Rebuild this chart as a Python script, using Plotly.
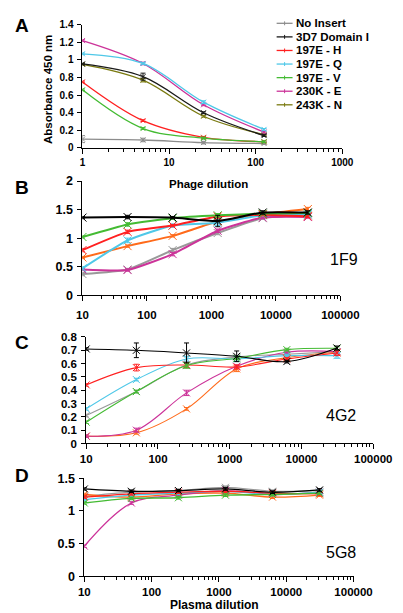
import plotly.graph_objects as go

W, H = 403, 613

names = ["No Insert", "3D7 Domain I", "197E - H", "197E - Q", "197E - V", "230K - E", "243K - N"]
colors_a = ["#8c8c8c", "#1a1a1a", "#ff2020", "#4fc8e8", "#44bb33", "#cc3399", "#7a7a10"]
colors_bcd = ["#999999", "#000000", "#ff2020", "#4fc8e8", "#44bb33", "#cc3399", "#ff6a1a"]

# Panel A: phage dilution
phage_dil = [1, 5, 25, 125]
a_vals = [
    [0.10, 0.09, 0.06, 0.05],
    [0.955, 0.81, 0.40, 0.14],
    [0.75, 0.31, 0.12, 0.07],
    [1.07, 0.96, 0.52, 0.21],
    [0.66, 0.22, 0.11, 0.07],
    [1.22, 0.96, 0.49, 0.18],
    [0.95, 0.77, 0.36, 0.15],
]
a_err = [
    [0.04, 0.02, 0.015, 0.01],
    [0.01, 0.04, 0.01, 0.01],
    [0.01, 0.01, 0.01, 0.01],
    [0.01, 0.01, 0.015, 0.01],
    [0.01, 0.01, 0.01, 0.01],
    [0.01, 0.015, 0.01, 0.01],
    [0.01, 0.02, 0.01, 0.01],
]

# Panels B-D: plasma dilution
plasma_dil = [10, 50, 250, 1250, 6250, 31250]
b_vals = [
    [0.37, 0.45, 0.79, 1.09, 1.35, 1.40],
    [1.36, 1.37, 1.36, 1.30, 1.45, 1.45],
    [0.79, 1.11, 1.22, 1.38, 1.41, 1.38],
    [0.47, 0.96, 1.22, 1.27, 1.40, 1.42],
    [1.02, 1.24, 1.35, 1.40, 1.43, 1.44],
    [0.45, 0.44, 0.72, 1.13, 1.36, 1.37],
    [0.66, 0.86, 1.04, 1.29, 1.42, 1.51],
]
b_err = [
    [0.03, 0.02, 0.03, 0.03, 0.02, 0.02],
    [0.02, 0.03, 0.02, 0.10, 0.03, 0.03],
    [0.03, 0.03, 0.02, 0.03, 0.02, 0.02],
    [0.03, 0.04, 0.03, 0.05, 0.02, 0.02],
    [0.02, 0.03, 0.02, 0.03, 0.02, 0.02],
    [0.02, 0.02, 0.03, 0.03, 0.02, 0.02],
    [0.02, 0.02, 0.02, 0.03, 0.02, 0.03],
]
c_vals = [
    [0.21, 0.39, 0.59, 0.65, 0.67, 0.69],
    [0.71, 0.70, 0.68, 0.655, 0.615, 0.717],
    [0.44, 0.57, 0.59, 0.575, 0.635, 0.68],
    [0.26, 0.48, 0.635, 0.635, 0.66, 0.66],
    [0.16, 0.39, 0.585, 0.64, 0.705, 0.715],
    [0.055, 0.10, 0.38, 0.58, 0.685, 0.69],
    [0.055, 0.08, 0.26, 0.56, 0.645, 0.685],
]
c_err = [
    [0.01, 0.01, 0.02, 0.01, 0.01, 0.01],
    [0.01, 0.055, 0.075, 0.04, 0.01, 0.015],
    [0.01, 0.025, 0.02, 0.015, 0.01, 0.02],
    [0.01, 0.01, 0.02, 0.02, 0.01, 0.02],
    [0.01, 0.01, 0.02, 0.01, 0.01, 0.01],
    [0.01, 0.015, 0.02, 0.01, 0.01, 0.01],
    [0.01, 0.01, 0.01, 0.02, 0.01, 0.01],
]
d_vals = [
    [1.22, 1.285, 1.31, 1.36, 1.30, 1.31],
    [1.335, 1.30, 1.31, 1.335, 1.285, 1.32],
    [1.21, 1.26, 1.285, 1.30, 1.27, 1.26],
    [1.17, 1.24, 1.27, 1.30, 1.25, 1.285],
    [1.12, 1.19, 1.20, 1.24, 1.25, 1.27],
    [0.46, 1.12, 1.24, 1.31, 1.25, 1.285],
    [1.25, 1.21, 1.26, 1.27, 1.21, 1.24],
]
d_err = [[0.02] * 6 for _ in range(7)]

# log-axis tick values
a_major = [1, 10, 100, 1000]
bcd_major = [10, 100, 1000, 10000, 100000]
minor_mult = [2, 3, 4, 5, 6, 7, 8, 9]

FONT = "Liberation Sans"


def px(x):
    return x / W


def py(y):
    return 1 - y / H


fig = go.Figure()

draw_order = [0, 6, 5, 3, 2, 4, 1]

panels = [
    ("", phage_dil, a_vals, a_err, colors_a, 1.3, 5, 1.0),
    ("2", plasma_dil, b_vals, b_err, colors_bcd, 2.0, 8, 0.5),
    ("3", plasma_dil, c_vals, c_err, colors_bcd, 1.1, 7, 1.0),
    ("4", plasma_dil, d_vals, d_err, colors_bcd, 1.3, 7, 1.0),
]

for suf, xv, vals, errs, cols, lw, ms, sm in panels:
    for i in draw_order:
        fig.add_trace(go.Scatter(
            x=xv, y=vals[i], name=names[i], showlegend=False,
            mode="lines+markers",
            line=dict(color=cols[i], width=lw, shape="spline", smoothing=sm),
            marker=dict(symbol="x-thin", size=ms, line=dict(color=cols[i], width=1)),
            error_y=dict(type="data", array=errs[i], color=cols[i], thickness=1, width=2.5),
            xaxis="x" + suf, yaxis="y" + suf,
        ))

tick_font_small = dict(family=FONT, size=10, color="black", weight="bold")
xtick_font = dict(family=FONT, size=11.5, color="black", weight="bold")
ytick_font = dict(family=FONT, size=12.5, color="black", weight="bold")
ytick_font_c = dict(family=FONT, size=11.5, color="black", weight="bold")


def xaxis(domain, rng, majors, font, standoff, anchor):
    minors = [m * v for v in majors[:-1] for m in minor_mult]
    return dict(
        type="log", domain=domain, range=rng, anchor=anchor,
        showgrid=False, zeroline=False, showline=True, linecolor="black", linewidth=1,
        ticks="outside", ticklen=5, tickcolor="black", tickwidth=1,
        tickmode="array", tickvals=majors, ticktext=[str(v) for v in majors],
        tickfont=font, ticklabelstandoff=standoff,
        minor=dict(tickmode="array", tickvals=minors, ticks="outside", ticklen=3,
                   tickcolor="black", tickwidth=1, showgrid=False),
    )


def yaxis(domain, rng, dtick, font, anchor):
    return dict(
        domain=domain, range=rng, anchor=anchor, dtick=dtick,
        showgrid=False, zeroline=False, showline=True, linecolor="black", linewidth=1,
        ticks="outside", ticklen=4, tickcolor="black", tickwidth=1,
        tickfont=font, ticklabelstandoff=2,
    )


fig.update_layout(
    width=W, height=H, margin=dict(l=0, r=0, t=0, b=0),
    paper_bgcolor="white", plot_bgcolor="white", showlegend=False,
    xaxis=xaxis([px(73), px(350)], [0, 3], a_major, tick_font_small, 0, "y"),
    yaxis=yaxis([py(136), py(10)], [0, 1.4], 0.2, tick_font_small, "x"),
    xaxis2=xaxis([px(73), px(348)], [1, 5], bcd_major, xtick_font, 4, "y2"),
    yaxis2=yaxis([py(286.7), py(170)], [0, 2], 0.5, ytick_font, "x2"),
    xaxis3=xaxis([px(77), px(383)], [1, 5], bcd_major, xtick_font, 0, "y3"),
    yaxis3=yaxis([py(438.5), py(329.5)], [0, 0.8], 0.1, ytick_font_c, "x3"),
    xaxis4=xaxis([px(75), px(362)], [1, 5], bcd_major, xtick_font, 0, "y4"),
    yaxis4=yaxis([py(574.3), py(474)], [0, 1.5], 0.5, ytick_font, "x4"),
)

ann = []


def add_text(text, x, y, size, bold=True, xanchor="center", angle=0):
    ann.append(dict(
        text=("<b>%s</b>" % text) if bold else text, x=px(x), y=py(y),
        xref="paper", yref="paper", showarrow=False, xanchor=xanchor, yanchor="middle",
        textangle=angle, font=dict(family=FONT, size=size, color="black"),
    ))


add_text("A", 9, 11, 19)
add_text("B", 8, 177, 19)
add_text("C", 8, 335, 19)
add_text("D", 8, 471, 19)
add_text("Phage dilution", 207, 173, 11.5)
add_text("Absorbance 450 nm", 37, 76, 11.5, angle=-90)
add_text("Plasma dilution", 214, 604, 12)
add_text("1F9", 352, 250, 16, bold=False)
add_text("4G2", 349, 410, 16, bold=False)
add_text("5G8", 349, 550, 16, bold=False)

shapes = []
for i, n in enumerate(names):
    yy = 8.5 + 13.9 * i
    shapes.append(dict(type="line", xref="paper", yref="paper",
                       x0=px(280), x1=px(297), y0=py(yy), y1=py(yy),
                       line=dict(color=colors_a[i], width=1.3)))
    shapes.append(dict(type="line", xref="paper", yref="paper",
                       x0=px(288.5), x1=px(288.5), y0=py(yy - 2), y1=py(yy + 2),
                       line=dict(color=colors_a[i], width=1)))
    add_text(n, 299, yy, 11.5, xanchor="left")

fig.update_layout(annotations=ann, shapes=shapes)

fig.write_html("out.html")
